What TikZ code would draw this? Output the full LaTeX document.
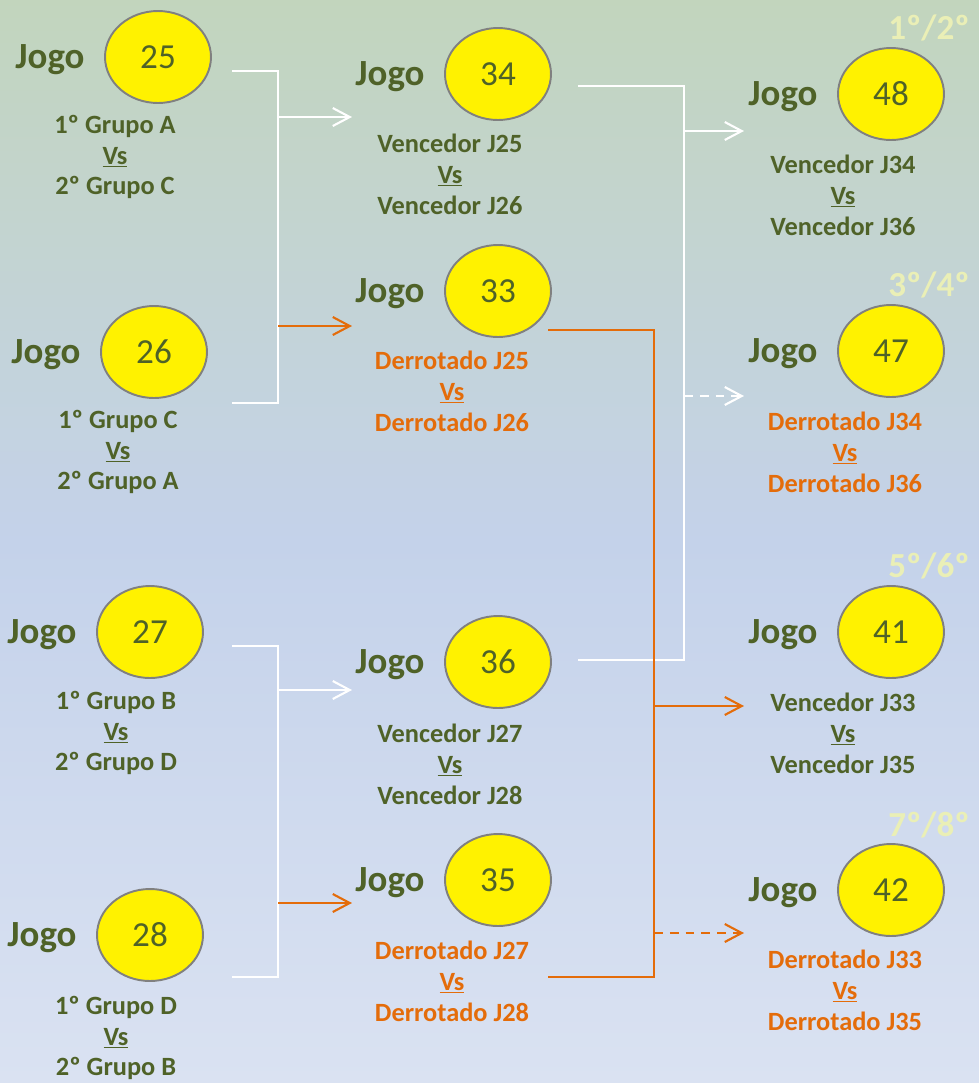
\documentclass[tikz,border=0pt]{standalone}
\usepackage{fontspec}
\setmainfont{Carlito}
\usetikzlibrary{arrows.meta,shapes.geometric}

\definecolor{jogoGreen}{RGB}{79,98,40}
\definecolor{lossOrange}{RGB}{228,108,10}
\definecolor{placeYellow}{RGB}{234,239,182}
\definecolor{ballGray}{RGB}{128,128,128}
\definecolor{bgTop}{RGB}{194,213,189}
\definecolor{bgMid}{RGB}{196,210,234}
\definecolor{bgBot}{RGB}{218,226,242}

\begin{document}
\begin{tikzpicture}[x=0.02cm, y=-0.02cm,
	ball/.style={ellipse, draw=ballGray, line width=1.1pt, fill=yellow, minimum width=2.12cm, minimum height=1.84cm, inner sep=0pt, text=jogoGreen, font=\fontsize{20}{24}\selectfont},
	jogo/.style={text=jogoGreen, inner sep=1pt, font=\bfseries\fontsize{21}{25}\selectfont},
	versus/.style={align=center, inner sep=1pt, font=\bfseries\fontsize{15}{17.6}\selectfont},
	place/.style={text=placeYellow, inner sep=1pt, font=\bfseries\fontsize{20}{24}\selectfont},
	wline/.style={white, line width=1.2pt},
	oline/.style={lossOrange, line width=1.2pt},
	barb/.style={-{Straight Barb[length=3.4mm,width=3.6mm]}},
	dashy/.style={dash pattern=on 5pt off 4pt}]

	\useasboundingbox (0,0) rectangle (979,1083);
	\fill[top color=bgTop, bottom color=bgBot, middle color=bgMid] (0,0) rectangle (979,1083);


	\foreach \n/\x/\y in {25/158/57, 26/154/352, 27/150/632, 28/150/935, 34/498/74, 33/498/291, 36/498/662, 35/498/880, 48/891/94, 47/891/351, 41/891/632, 42/891/890}
	{
		\node[ball] (g\n) at (\x,\y) {\n};
		\node[jogo] (j\n) at (\x-108,\y+3) {Jogo};
	}

	\foreach \n/\x/\y/\col/\first/\second in {25/115/157/jogoGreen/1º Grupo A/2º Grupo C, 26/118/452/jogoGreen/1º Grupo C/2º Grupo A, 27/116/733/jogoGreen/1º Grupo B/2º Grupo D, 28/116/1038/jogoGreen/1º Grupo D/2º Grupo B, 34/450/174/jogoGreen/Vencedor J25/Vencedor J26, 33/452/391/lossOrange/Derrotado J25/Derrotado J26, 36/450/764/jogoGreen/Vencedor J27/Vencedor J28, 35/452/981/lossOrange/Derrotado J27/Derrotado J28, 48/843/195/jogoGreen/Vencedor J34/Vencedor J36, 47/845/452/lossOrange/Derrotado J34/Derrotado J36, 41/843/733/jogoGreen/Vencedor J33/Vencedor J35, 42/845/990/lossOrange/Derrotado J33/Derrotado J35}
		\node[versus, text=\col] (v\n) at (\x,\y) {\first\\\underline{Vs}\\\second};

	\node[place] (p12) at (929,28) {1º/2º};
	\node[place] (p34) at (929,285) {3º/4º};
	\node[place] (p56) at (929,566) {5º/6º};
	\node[place] (p78) at (929,825) {7º/8º};


	\coordinate (out25) at (232,71);
	\coordinate (out26) at (232,403);
	\coordinate (out27) at (232,646);
	\coordinate (out28) at (232,977);
	\coordinate (out34) at (578,86);
	\coordinate (out36) at (578,660);
	\coordinate (out33) at (548,330);
	\coordinate (out35) at (548,977);

	\coordinate (sA) at (278,71);
	\coordinate (sB) at (278,646);
	\coordinate (sC) at (684,86);
	\coordinate (sD) at (654,330);

	\coordinate (in34) at (352,117);
	\coordinate (in33) at (352,326);
	\coordinate (in36) at (352,690);
	\coordinate (in35) at (352,903);
	\coordinate (in48) at (744,131);
	\coordinate (in47) at (744,396);
	\coordinate (in41) at (744,706);
	\coordinate (in42) at (744,933);


	\draw[wline] (out25) -- (sA) |- (out26);
	\draw[wline,barb] (sA |- in34) -- (in34);
	\draw[oline,barb] (sA |- in33) -- (in33);

	\draw[wline] (out27) -- (sB) |- (out28);
	\draw[wline,barb] (sB |- in36) -- (in36);
	\draw[oline,barb] (sB |- in35) -- (in35);

	\draw[wline] (out34) -- (sC) |- (out36);
	\draw[wline,barb] (sC |- in48) -- (in48);
	\draw[wline,barb,dashy] (sC |- in47) -- (in47);

	\draw[oline] (out33) -- (sD) |- (out35);
	\draw[oline,barb] (sD |- in41) -- (in41);
	\draw[oline,barb,dashy] (sD |- in42) -- (in42);


\end{tikzpicture}
\end{document}
